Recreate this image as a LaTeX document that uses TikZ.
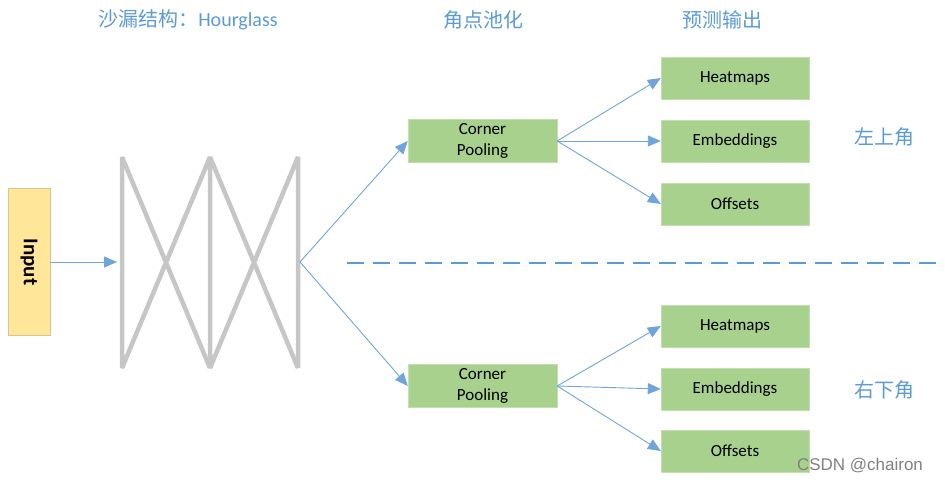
\documentclass[tikz,border=0pt]{standalone}
\usepackage{fontspec}
\setmainfont{Carlito}
\newfontfamily\cjk{Noto Sans CJK SC}
\newfontfamily\wmfont{Liberation Sans}
\usetikzlibrary{arrows.meta}
\definecolor{arrowblue}{HTML}{6FA5DA}
\definecolor{titleblue}{HTML}{5B9BD5}
\definecolor{boxgreen}{HTML}{A9D18E}
\definecolor{boxyellow}{HTML}{FFE699}
\definecolor{hggray}{HTML}{C6C6C6}
\tikzset{
  outbox/.style={rectangle,fill=boxgreen,draw=boxgreen!70!white,minimum width=148pt,minimum height=42pt,inner sep=0pt,font=\fontsize{17}{20}\selectfont},
  poolbox/.style={outbox,minimum width=149pt,minimum height=43pt,align=center,font=\fontsize{17}{21}\selectfont},
  flow/.style={->,draw=arrowblue,line width=0.9pt,>={Triangle[width=11pt,length=13pt]}},
  title/.style={text=titleblue,font=\fontsize{20}{23}\selectfont\cjk}
}
\begin{document}
\begin{tikzpicture}[x=1pt,y=-1pt]
\useasboundingbox (0,0) rectangle (945,484);
% titles
\node[title] (t1) at (188,20) {沙漏结构：{\fontspec{Carlito}Hourglass}};
\node[title] (t2) at (483,20) {角点池化};
\node[title] (t3) at (722,20) {预测输出};
\node[title] (tl) at (884,137) {左上角};
\node[title] (br) at (884,390) {右下角};
% input
\node[rectangle,fill=boxyellow,draw=boxyellow!70!gray,minimum width=42pt,minimum height=147pt,inner sep=0pt] (in) at (29,262) {};
\node[rotate=-90,font=\fontsize{21}{23}\selectfont\bfseries] (inlbl) at (in.center) {Input};
% hourglass
\draw[hggray,line width=4.5pt,line join=bevel] (122,157) -- (122,368) -- (210,157) -- (210,368) -- (298,157) -- (298,368);
\draw[hggray,line width=4.5pt] (122,157) -- (210,368);
\draw[hggray,line width=4.5pt] (210,157) -- (298,368);
\coordinate (hgin) at (117,262);
\coordinate (hgout) at (300,262);
\draw[flow] (in.east) -- (hgin);
% corner pooling
\node[poolbox] (cp1) at (482.5,141) {Corner\\Pooling};
\node[poolbox] (cp2) at (482.5,386) {Corner\\Pooling};
\draw[flow] (hgout) -- (cp1.west);
\draw[flow] (hgout) -- (cp2.west);
% outputs
\node[outbox] (hm1) at (735,78) {Heatmaps};
\node[outbox] (em1) at (735,141) {Embeddings};
\node[outbox] (of1) at (735,204) {Offsets};
\node[outbox] (hm2) at (735,326) {Heatmaps};
\node[outbox] (em2) at (735,389) {Embeddings};
\node[outbox] (of2) at (735,451) {Offsets};
\foreach \o in {hm1,em1,of1} \draw[flow] (cp1.east) -- (\o.west);
\foreach \o in {hm2,em2,of2} \draw[flow] (cp2.east) -- (\o.west);
% separator
\draw[titleblue,line width=2.5pt,dash pattern=on 17pt off 9pt] (347,263) -- (945,263);
\node[text=gray,font=\fontsize{17}{20}\selectfont\wmfont] (wm) at (860,466) {CSDN @chairon};
\end{tikzpicture}
\end{document}
